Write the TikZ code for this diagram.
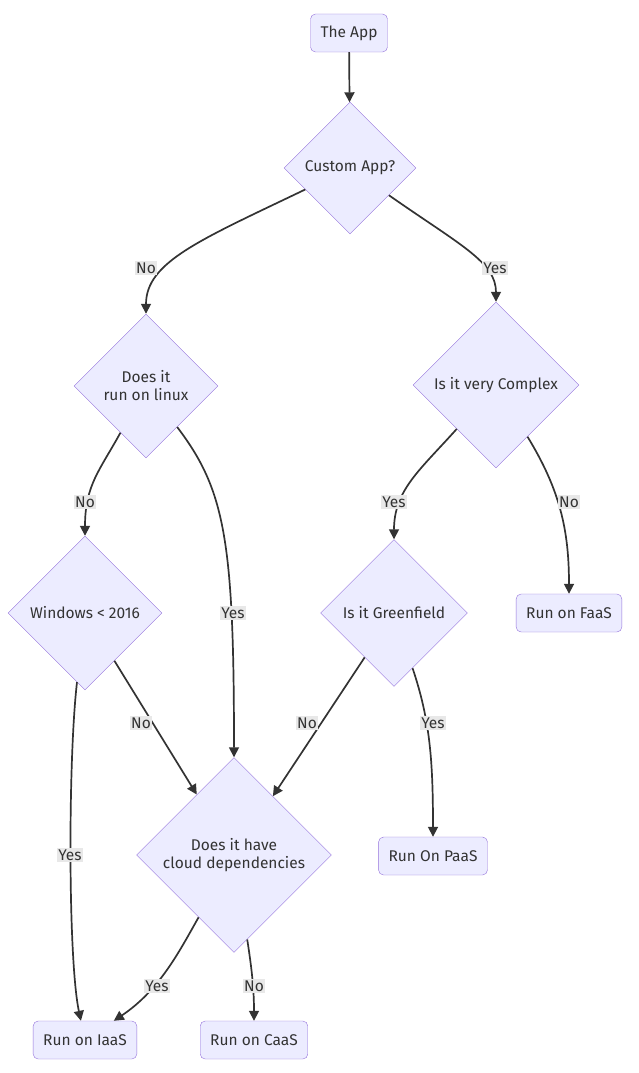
\documentclass[tikz,border=0pt]{standalone}
\usepackage{fontspec}
\setmainfont{Fira Sans}
\usetikzlibrary{shapes.geometric,arrows.meta}
\definecolor{nodefill}{HTML}{ECECFF}
\definecolor{nodeline}{HTML}{9370DB}
\definecolor{ink}{HTML}{333333}
\definecolor{lblbg}{HTML}{E8E8E8}

\begin{document}
\begin{tikzpicture}[x=1pt,y=-1pt,font=\fontsize{15.5}{18}\selectfont,
  box/.style={draw=nodeline,fill=nodefill,rounded corners=5pt,minimum height=38pt,inner xsep=10pt,text=ink},
  dec/.style={diamond,draw=nodeline,fill=nodefill,aspect=1,inner sep=0pt,align=center,text=ink},
  arr/.style={-{Triangle[length=10pt,width=10pt]},line width=1.7pt,ink},
  lbl/.style={fill=lblbg,inner sep=1.5pt,text=ink}]
\useasboundingbox (0,0) rectangle (638,1073);
\node[box] (app) at (349,33) {The App};
\node[dec,minimum size=132pt] (custom) at (350,168) {Custom App?};
\node[dec,minimum size=144pt] (linux) at (146,386) {Does it\\run on linux};
\node[dec,minimum size=166pt] (complex) at (496,385) {Is it very Complex};
\node[dec,minimum size=154pt] (win) at (85,613) {Windows < 2016};
\node[dec,minimum size=147pt] (green) at (394,613) {Is it Greenfield};
\node[box] (faas) at (569,613) {Run on FaaS};
\node[dec,minimum size=195pt] (cloud) at (234,855) {Does it have\\cloud dependencies};
\node[box] (paas) at (433,856) {Run On PaaS};
\node[box] (iaas) at (85,1040) {Run on IaaS};
\node[box] (caas) at (254,1040) {Run on CaaS};
% edges
\draw[arr] (app) -- (custom);
\draw[arr] (custom) .. controls (200,240) and (146,262) .. (linux);
\draw[arr] (custom) .. controls (460,245) and (496,262) .. (complex);
\draw[arr] (linux) .. controls (100,470) and (85,485) .. (win);
\draw[arr] (linux) .. controls (225,490) and (234,540) .. (cloud);
\draw[arr] (complex) .. controls (420,470) and (394,490) .. (green);
\draw[arr] (complex) .. controls (560,490) and (569,530) .. (faas);
\draw[arr] (win) -- (cloud);
\draw[arr] (green) -- (cloud);
\draw[arr] (win) .. controls (68,760) and (68,960) .. (iaas);
\draw[arr] (green) .. controls (430,720) and (433,760) .. (paas);
\draw[arr] (cloud) .. controls (180,950) and (160,990) .. (iaas);
\draw[arr] (cloud) .. controls (252,970) and (254,990) .. (caas);
% labels
\node[lbl] (l1) at (146,268) {No};
\node[lbl] (l2) at (495,268) {Yes};
\node[lbl] (l3) at (85,502) {No};
\node[lbl] (l4) at (233,613) {Yes};
\node[lbl] (l5) at (394,502) {Yes};
\node[lbl] (l6) at (569,502) {No};
\node[lbl] (l7) at (141,723) {No};
\node[lbl] (l8) at (70,855) {Yes};
\node[lbl] (l9) at (307,723) {No};
\node[lbl] (l10) at (433,723) {Yes};
\node[lbl] (l11) at (157,986) {Yes};
\node[lbl] (l12) at (254,986) {No};
\end{tikzpicture}
\end{document}
